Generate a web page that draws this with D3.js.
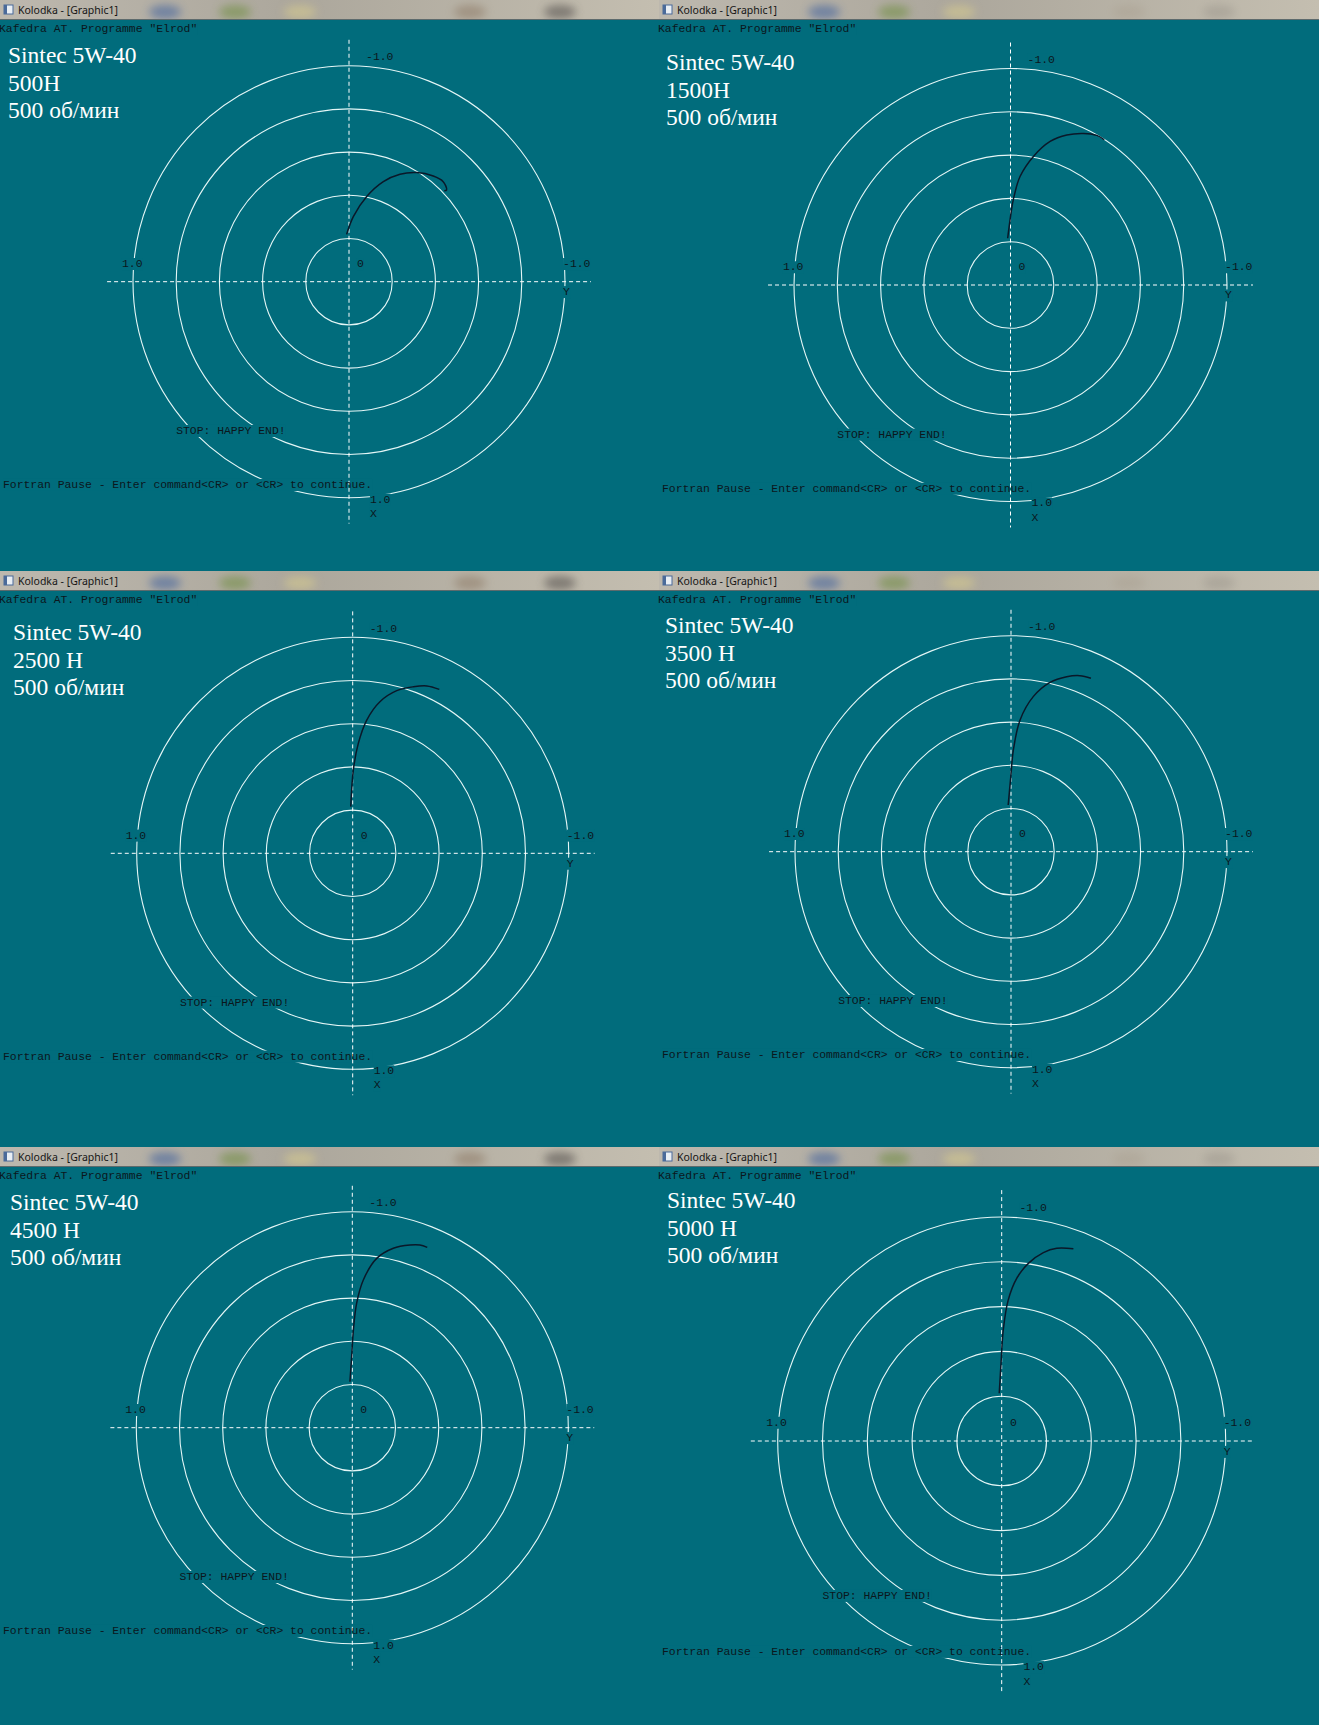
<!DOCTYPE html>
<html lang="ru">
<head>
<meta charset="UTF-8">
<title>Kolodka - Elrod</title>
<script src="https://cdn.jsdelivr.net/npm/d3@7"></script>
<style>
  body { margin: 0; background: #016c7c; }
  .bar-title { font-family: "Noto Sans", sans-serif; font-size: 10.5px; fill: #151515; }
  .console { font-family: "Liberation Mono", monospace; font-size: 11.4px; fill: #0b171c; }
  .caption { font-family: "Liberation Serif", serif; font-size: 23.5px; fill: #ffffff; }
</style>
</head>
<body>
<svg id="chart" width="1319" height="1725"></svg>
<script>
// ---- data ----
const oil = "Sintec 5W-40";
const loads = ["500H", "1500H", "2500 H", "3500 H", "4500 H", "5000 H"];
const speed = "500 об/мин";
const rings = [0.2, 0.4, 0.6, 0.8, 1.0];

// journal centre path: Y = horizontal (positive to the left), X = vertical (positive down)
const trackY = [
  [0.011, -0.020, -0.082, -0.159, -0.236, -0.313, -0.390, -0.436, -0.452, -0.441],
  [0.013, 0.002, -0.013, -0.044, -0.106, -0.183, -0.260, -0.337, -0.399, -0.433],
  [0.009, -0.003, -0.026, -0.065, -0.126, -0.204, -0.281, -0.343, -0.401],
  [0.013, 0.001, -0.011, -0.042, -0.103, -0.181, -0.258, -0.319, -0.370],
  [0.011, 0.003, -0.005, -0.020, -0.051, -0.113, -0.190, -0.267, -0.313, -0.347],
  [0.011, 0.003, -0.007, -0.029, -0.067, -0.119, -0.186, -0.246, -0.320]
];
const trackX = [
  [-0.219, -0.301, -0.394, -0.463, -0.497, -0.505, -0.489, -0.463, -0.425, -0.421],
  [-0.216, -0.301, -0.394, -0.501, -0.594, -0.663, -0.693, -0.700, -0.691, -0.671],
  [-0.216, -0.386, -0.509, -0.617, -0.702, -0.753, -0.771, -0.775, -0.759],
  [-0.216, -0.347, -0.471, -0.610, -0.718, -0.784, -0.810, -0.815, -0.803],
  [-0.213, -0.329, -0.452, -0.576, -0.684, -0.784, -0.831, -0.846, -0.846, -0.835],
  [-0.213, -0.347, -0.496, -0.629, -0.726, -0.793, -0.841, -0.860, -0.858]
];

// axis labels (text, position in plot units)
const axisText = ["-1.0", "1.0", "0", "-1.0", "Y", "1.0", "X"];
const axisTextY = [-0.079, 1.051, -0.037, -0.991, -0.991, -0.097, -0.097];
const axisTextX = [-1.026, -0.068, -0.068, -0.068, 0.062, 1.023, 1.088];

// ---- window layout ----
const panelLeft = [0, 659, 0, 659, 0, 659];
const panelTop = [0, 0, 571, 571, 1147, 1147];
const panelW = [659, 660, 659, 660, 659, 660];
const panelH = [571, 571, 576, 576, 578, 578];
const centerX = [349, 1010.5, 352.7, 1011, 352.3, 1001.7];
const centerY = [281.7, 285, 853.3, 851.7, 1427.7, 1441];
const unit = [216, 216.5, 216, 216, 216, 224];
const captionX = [8, 666, 13, 665, 10, 667];
const captionY = [63, 70, 640, 633, 1210, 1208];
const teal = "#016c7c";

const svg = d3.select("#chart");
const defs = svg.append("defs");

const grad = defs.append("linearGradient").attr("id", "bar").attr("x1", 0).attr("x2", 1);
grad.append("stop").attr("offset", "0%").attr("stop-color", "#bdb8ae");
grad.append("stop").attr("offset", "45%").attr("stop-color", "#aca79c");
grad.append("stop").attr("offset", "100%").attr("stop-color", "#c4beb0");

defs.append("filter").attr("id", "blur")
    .attr("x", "-50%").attr("y", "-50%").attr("width", "200%").attr("height", "200%")
  .append("feGaussianBlur").attr("stdDeviation", 4);

function drawPanel(i) {
  const x0 = panelLeft[i], y0 = panelTop[i];
  const cx = centerX[i], cy = centerY[i], u = unit[i];

  const sx = d3.scaleLinear().domain([1, -1]).range([cx - u, cx + u]);
  const sy = d3.scaleLinear().domain([-1, 1]).range([cy - u, cy + u]);

  const g = svg.append("g");
  g.append("rect")
    .attr("x", x0).attr("y", y0)
    .attr("width", panelW[i]).attr("height", panelH[i])
    .attr("fill", teal);

  // window title bar
  const bar = g.append("g");
  bar.append("rect")
    .attr("x", x0).attr("y", y0)
    .attr("width", panelW[i]).attr("height", 20)
    .attr("fill", "url(#bar)");
  const blobs = [[165, "#3b5f9e"], [235, "#6d8d3c"], [300, "#d9cd8e"], [470, "#8e7a66"], [560, "#4d4a46"]];
  const clipId = "barclip" + i;
  defs.append("clipPath").attr("id", clipId)
    .append("rect").attr("x", x0).attr("y", y0).attr("width", panelW[i]).attr("height", 20);
  bar.append("g").attr("clip-path", `url(#${clipId})`)
    .selectAll("ellipse").data(blobs).enter().append("ellipse")
    .attr("cx", d => x0 + d[0]).attr("cy", y0 + 12)
    .attr("rx", 16).attr("ry", 7)
    .attr("fill", d => d[1])
    .attr("opacity", (d, k) => (i % 2 === 1 && k > 2) ? 0.15 : 0.55)
    .attr("filter", "url(#blur)");
  bar.append("rect")
    .attr("x", x0).attr("y", y0 + 19)
    .attr("width", panelW[i]).attr("height", 1)
    .attr("fill", "#5d6a6c");
  bar.append("rect")
    .attr("x", x0 + 4).attr("y", y0 + 5)
    .attr("width", 9).attr("height", 9)
    .attr("fill", "#e9eef4").attr("stroke", "#4a6a9a").attr("stroke-width", 1);
  bar.append("rect")
    .attr("x", x0 + 4).attr("y", y0 + 5)
    .attr("width", 3).attr("height", 9)
    .attr("fill", "#4a6a9a");
  bar.append("text").attr("class", "bar-title")
    .attr("x", x0 + 18).attr("y", y0 + 14)
    .text("Kolodka - [Graphic1]");

  const ringLayer = g.append("g");
  const maskLayer = g.append("g");
  const axisLayer = g.append("g");
  const curveLayer = g.append("g");
  const textLayer = g.append("g");

  ringLayer.selectAll("circle").data(rings).enter().append("circle")
    .attr("cx", sx(0)).attr("cy", sy(0))
    .attr("r", d => sy(d) - sy(0))
    .attr("fill", "none")
    .attr("stroke", "#e4f6f6")
    .attr("stroke-width", 1.1);

  // console text has an opaque background that cuts the rings
  function consoleText(x, y, txt) {
    const t = textLayer.append("text").attr("class", "console")
      .attr("x", x).attr("y", y).text(txt);
    const b = t.node().getBBox();
    maskLayer.append("rect")
      .attr("x", b.x).attr("y", b.y)
      .attr("width", b.width).attr("height", b.height)
      .attr("fill", teal);
  }

  consoleText(x0 - 1, y0 + 32, 'Kafedra AT. Programme "Elrod"');
  axisText.forEach((t, k) => consoleText(sx(axisTextY[k]), sy(axisTextX[k]), t));
  consoleText(sx(0.80), sy(0.705), "STOP: HAPPY END!");
  consoleText(x0 + 3, sy(0.955), "Fortran Pause - Enter command<CR> or <CR> to continue.");

  // dashed axes
  axisLayer.append("line")
    .attr("x1", sx(0)).attr("x2", sx(0))
    .attr("y1", sy(-1.12)).attr("y2", sy(1.12))
    .attr("stroke", "#ffffff").attr("stroke-width", 1)
    .attr("stroke-dasharray", "4,3");
  axisLayer.append("line")
    .attr("x1", sx(1.12)).attr("x2", sx(-1.12))
    .attr("y1", sy(0)).attr("y2", sy(0))
    .attr("stroke", "#ffffff").attr("stroke-width", 1)
    .attr("stroke-dasharray", "4,3");

  // trajectory
  const pts = trackY[i].map((y, k) => [y, trackX[i][k]]);
  const line = d3.line()
    .x(d => sx(d[0]))
    .y(d => sy(d[1]))
    .curve(d3.curveCatmullRom);
  curveLayer.append("path")
    .attr("d", line(pts))
    .attr("fill", "none")
    .attr("stroke", "#0a1829")
    .attr("stroke-width", 1.5);

  // caption typed over the screenshot
  const cap = [oil, loads[i], speed];
  textLayer.selectAll(".caption").data(cap).enter().append("text")
    .attr("class", "caption")
    .attr("x", captionX[i])
    .attr("y", (d, k) => captionY[i] + k * 27.5)
    .text(d => d);
}

loads.forEach((d, i) => drawPanel(i));
</script>
</body>
</html>
